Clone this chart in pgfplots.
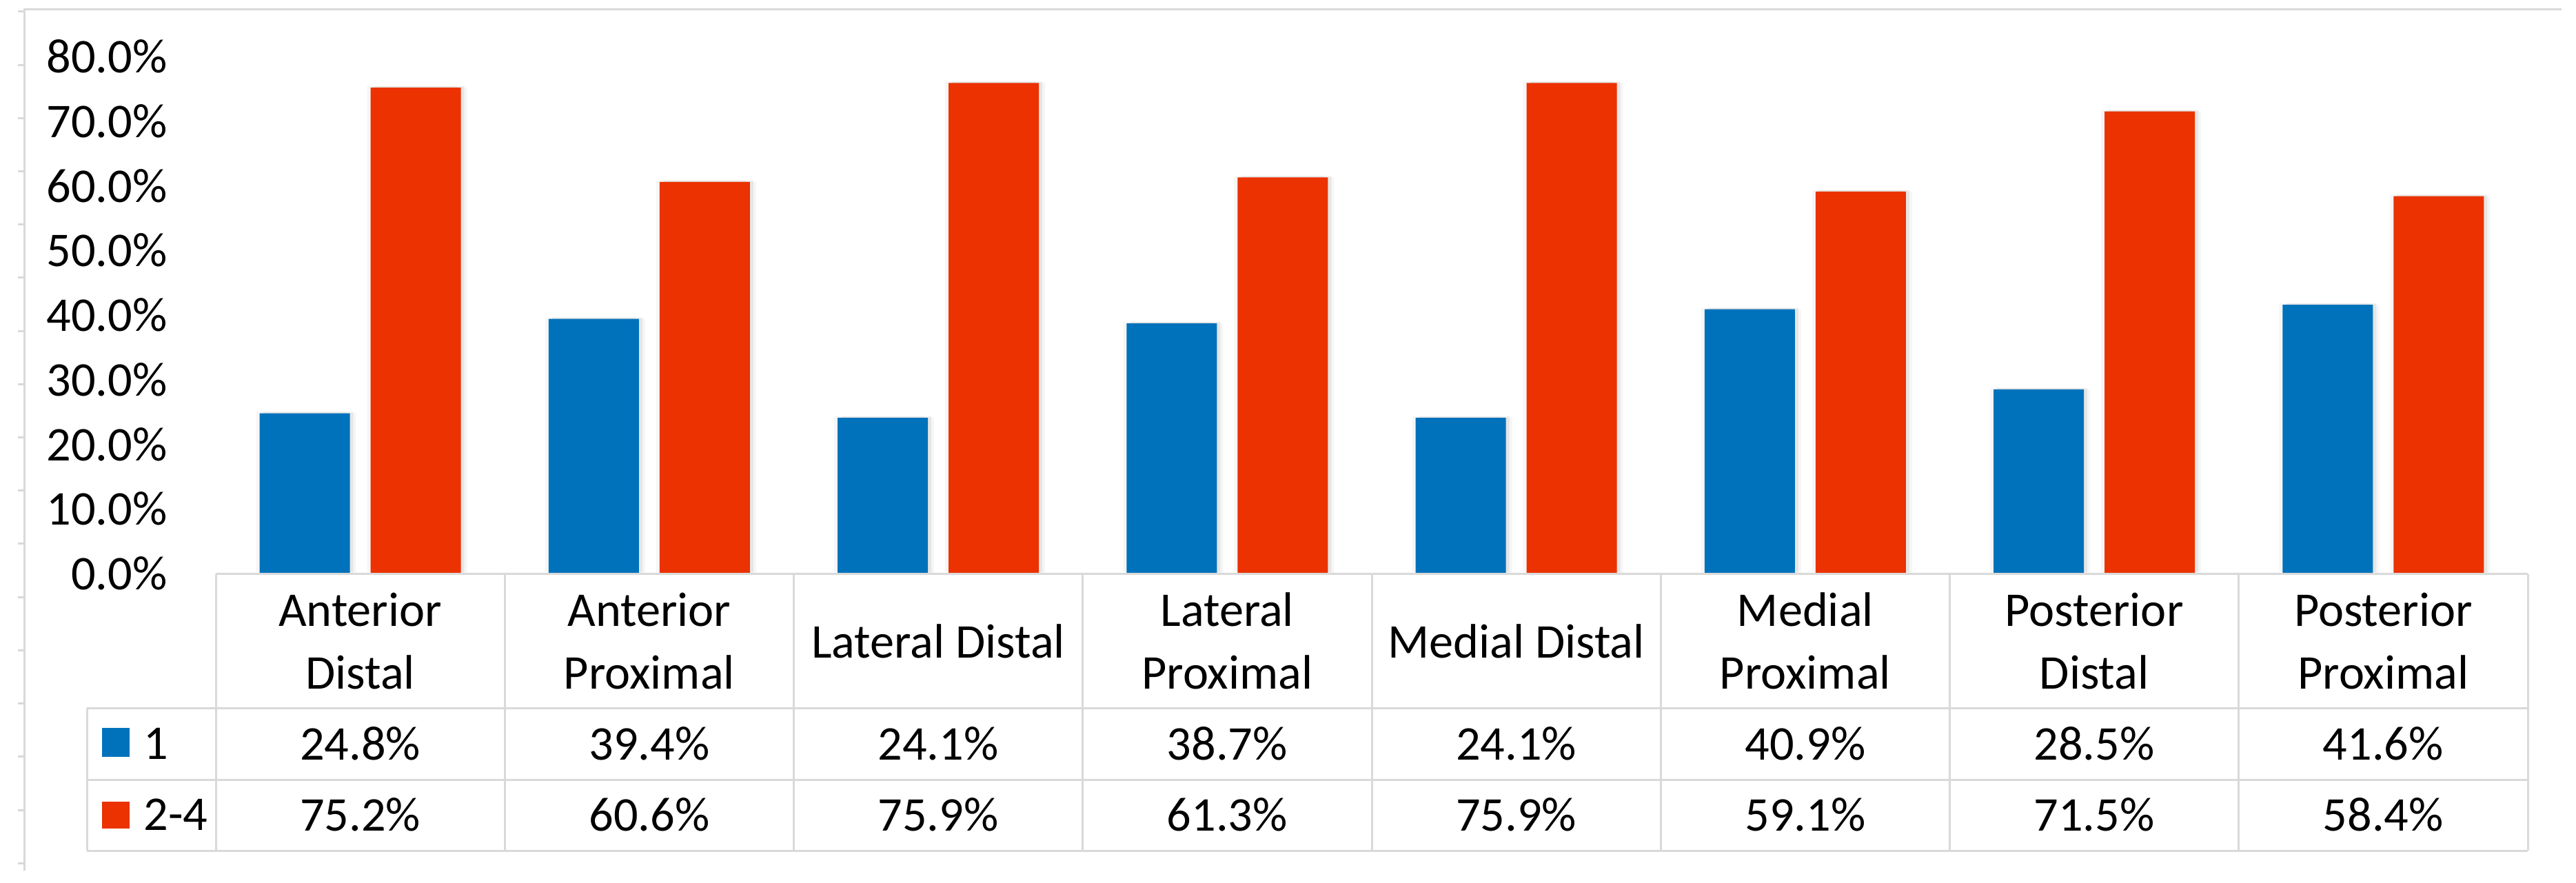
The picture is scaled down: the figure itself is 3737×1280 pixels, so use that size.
\documentclass[border=0pt]{standalone}
\usepackage{pgfplots}
\pgfplotsset{compat=1.18}
\usepackage{fontspec}
\setmainfont{Carlito}
\usetikzlibrary{shadows}

\definecolor{barblue}{RGB}{0,114,187}
\definecolor{barred}{RGB}{235,50,0}
\definecolor{rulegray}{RGB}{217,217,217}
\newcommand{\chartfont}{\fontsize{20}{25.8}\selectfont}

\tikzset{barshadow/.style={
  drop shadow={shadow xshift=0.9mm, shadow yshift=0mm, opacity=0.07},
  drop shadow={shadow xshift=0.5mm, shadow yshift=0.2mm, opacity=0.14},
  drop shadow={shadow xshift=-0.5mm, shadow yshift=0.2mm, opacity=0.07}}}

\begin{document}
\begin{tikzpicture}[x=0.1mm,y=0.1mm]
  % page = 3737 x 1280 units
  \path (0,0) rectangle (3737,1280);

  % outer frame with small ticks on the left
  \draw[rulegray, line width=0.3mm] (35,17) -- (35,1266) -- (3716,1266);
  \foreach \i in {0,...,16}
    \draw[rulegray, line width=0.3mm] (26,{1263-77.2*\i}) -- (35,{1263-77.2*\i});

  \begin{axis}[
    at={(31.3mm,44.8mm)}, anchor=south west,
    scale only axis,
    width=335.4mm, height=75.0mm,
    xmin=-0.5, xmax=7.5,
    ymin=0, ymax=80,
    ybar=3mm, bar width=13.1mm,
    axis line style={draw=none},
    xtick=\empty,
    ytick={0,10,20,30,40,50,60,70,80},
    yticklabels={0.0\%,10.0\%,20.0\%,30.0\%,40.0\%,50.0\%,60.0\%,70.0\%,80.0\%},
    ytick style={draw=none},
    yticklabel style={font=\chartfont, anchor=east, inner sep=0pt, xshift=-7mm},
    clip=false,
  ]
    % series "1"
    \addplot[fill=barblue, draw=none, barshadow]
      coordinates {(0,24.8) (1,39.4) (2,24.1) (3,38.7) (4,24.1) (5,40.9) (6,28.5) (7,41.6)};
    % series "2-4"
    \addplot[fill=barred, draw=none, barshadow]
      coordinates {(0,75.2) (1,60.6) (2,75.9) (3,61.3) (4,75.9) (5,59.1) (6,71.5) (7,58.4)};
  \end{axis}

  % data table below the plot
  \begin{scope}[rulegray, line width=0.3mm]
    \fill[white] (313,447) rectangle (3667,253);
    \draw (313,447) -- (3667,447);
    \foreach \i in {0,...,8}
      \draw ({313+419.25*\i},447) -- ({313+419.25*\i},46);
    \draw (126,253) -- (3667,253);
    \draw (126,149) -- (3667,149);
    \draw (126,46) -- (3667,46);
    \draw (126,253) -- (126,46);
  \end{scope}

  \foreach \c [count=\i from 0] in {Anterior\\Distal, Anterior\\Proximal, Lateral Distal,
      Lateral\\Proximal, Medial Distal, Medial\\Proximal, Posterior\\Distal, Posterior\\Proximal}
    \node[font=\chartfont, align=center, inner sep=0pt] at ({313+419.25*(\i+0.5)},350) {\c};

  \foreach \v [count=\i from 0] in {24.8,39.4,24.1,38.7,24.1,40.9,28.5,41.6}
    \node[font=\chartfont, inner sep=0pt] at ({313+419.25*(\i+0.5)},201) {\v\%};
  \foreach \v [count=\i from 0] in {75.2,60.6,75.9,61.3,75.9,59.1,71.5,58.4}
    \node[font=\chartfont, inner sep=0pt] at ({313+419.25*(\i+0.5)},98) {\v\%};

  % legend keys in the table
  \fill[barblue] (148,182) rectangle (188,224);
  \fill[barred] (148,78) rectangle (188,117);
  \node[font=\chartfont, anchor=west, inner sep=0pt] at (208,201) {1};
  \node[font=\chartfont, anchor=west, inner sep=0pt] at (208,98) {2-4};
\end{tikzpicture}
\end{document}
